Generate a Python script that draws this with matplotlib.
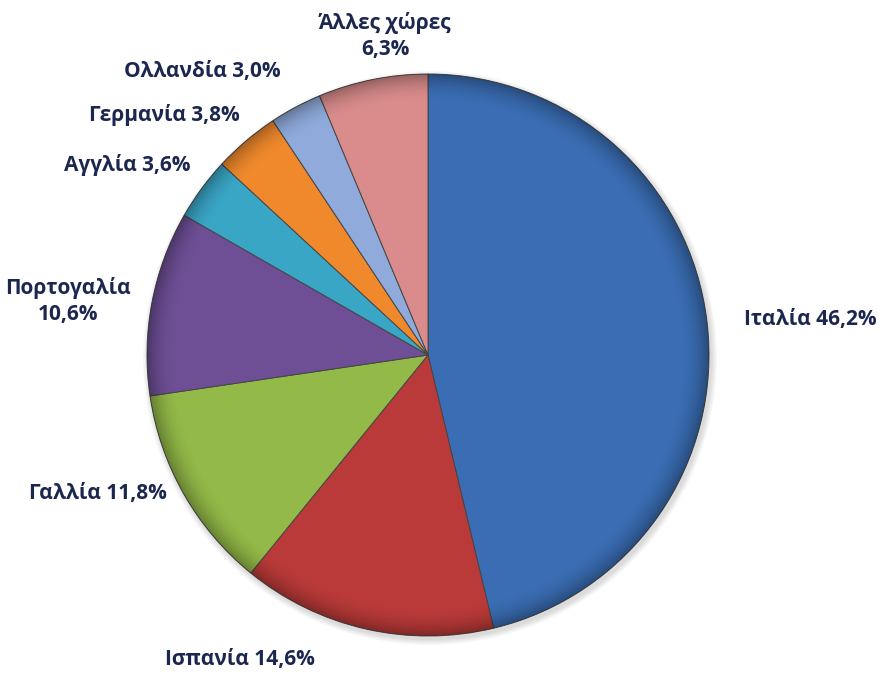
import numpy as np
import matplotlib.pyplot as plt
from matplotlib.patches import Circle

# export share by destination country (%)
countries = ['Ιταλία', 'Ισπανία', 'Γαλλία', 'Πορτογαλία', 'Αγγλία', 'Γερμανία', 'Ολλανδία', 'Άλλες χώρες']
shares = [46.2, 14.6, 11.8, 10.6, 3.6, 3.8, 3.0, 6.3]
colors = ['#3a6db3', '#b93a38', '#93b948', '#6e4f96', '#3aa6c6', '#f0892c', '#8faadb', '#d98c8b']

# label anchor points in pixel space (x, y from top) and how the text is split
label_pos = [(810, 320), (240, 660), (98, 493), (68, 301), (127, 165), (164, 115), (202, 72), (385, 36)]
two_line = [False, False, False, True, False, False, False, True]

W, H = 883, 677
fig = plt.figure(figsize=(W / 100, H / 100), dpi=100)
ax = fig.add_axes([0, 0, 1, 1])

cx, cy, r = 428, H - 355, 281

# soft drop shadow under the pie
for k in range(6):
    ax.add_patch(Circle((cx + 2, cy - 3), r + 6 - k, color='black', alpha=0.025, lw=0, zorder=0))

wedges, _ = ax.pie(shares, colors=colors, startangle=90, counterclock=False,
                   center=(cx, cy), radius=r, frame=True,
                   wedgeprops=dict(edgecolor='#454545', linewidth=0.7))
ax.set_xlim(0, W)
ax.set_ylim(0, H)
ax.set_aspect('equal')
ax.axis('off')

# bevel-like shading: darker toward the rim
n = 400
gx, gy = np.meshgrid(np.linspace(-1, 1, n), np.linspace(-1, 1, n))
d = np.sqrt(gx ** 2 + gy ** 2)
shade = np.zeros((n, n, 4))
shade[..., 3] = np.clip((d - 0.9) / 0.1, 0, 1) ** 2 * 0.3
img = ax.imshow(shade, extent=(cx - r, cx + r, cy - r, cy + r), zorder=3, interpolation='bilinear')
img.set_clip_path(Circle((cx, cy), r, transform=ax.transData))

txt_color = '#1c274f'
for name, val, (px, py), split in zip(countries, shares, label_pos, two_line):
    num = f'{val:.1f}'.replace('.', ',') + '%'
    s = f'{name}\n{num}' if split else f'{name} {num}'
    ax.text(px, H - py, s, ha='center', va='center', color=txt_color,
            fontsize=15, fontweight='bold', family=['Open Sans', 'DejaVu Sans'],
            linespacing=1.3, zorder=5)

fig.savefig('out.png', dpi=100)
